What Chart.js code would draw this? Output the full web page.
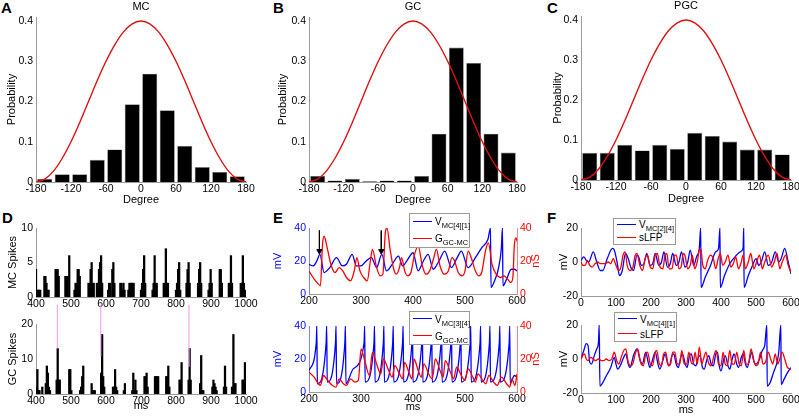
<!DOCTYPE html>
<html><head><meta charset="utf-8">
<script src="https://cdn.jsdelivr.net/npm/chart.js@4.4.1/dist/chart.umd.min.js"></script>
<style>
html,body{margin:0;padding:0;background:#fff}
body{width:799px;height:416px;position:relative;overflow:hidden;font-family:"Liberation Sans",Arial,Helvetica,sans-serif}
canvas{position:absolute}
.pl{position:absolute;font-weight:bold;font-size:15px;line-height:15px;color:#000}
.leg{position:absolute;border:1px solid #9a9a9a;background:#fff;box-sizing:border-box;font-size:10px;color:#000}
.leg .row{position:absolute;left:3px;white-space:nowrap;line-height:11px}
.leg .sw{display:inline-block;width:19px;height:0;border-top:1.5px solid;vertical-align:middle;margin-right:3px;position:relative;top:-1px}
.leg sub{font-size:7.5px;vertical-align:-3px;line-height:0}
</style></head><body>
<div class="pl" style="left:1px;top:0px">A</div>
<div class="pl" style="left:273px;top:0px">B</div>
<div class="pl" style="left:547px;top:0px">C</div>
<div class="pl" style="left:2px;top:210px">D</div>
<div class="pl" style="left:273px;top:210px">E</div>
<div class="pl" style="left:547px;top:210px">F</div>
<script>
// ---------------- DATA ----------------
const binCenters = [-165,-135,-105,-75,-45,-15,15,45,75,105,135,165];
const mcProb  = [0.008,0.019,0.019,0.055,0.081,0.193,0.269,0.178,0.090,0.037,0.025,0.014];
const gcProb  = [0.015,0.004,0.008,0.002,0.004,0.004,0.015,0.120,0.334,0.296,0.120,0.073];
const pgcProb = [0.068,0.068,0.088,0.074,0.088,0.078,0.118,0.110,0.096,0.076,0.076,0.064];
const refDeg  = [-180,-165,-150,-135,-120,-105,-90,-75,-60,-45,-30,-15,0,15,30,45,60,75,90,105,120,135,150,165,180];
const refProb = [0,0.007,0.027,0.059,0.100,0.148,0.200,0.252,0.300,0.341,0.373,0.393,0.400,0.393,0.373,0.341,0.300,0.252,0.200,0.148,0.100,0.059,0.027,0.007,0];
const degTicks = [-180,-120,-60,0,60,120,180];

const mcSpikeT = [400,403,406,409,412, 424,427,430,433,436, 456,459,462,465, 484,487,490,495, 510,513,516,519,522,525,
  550,553,556,559,562,565, 574,577,580,583,586,589, 606,609,612,618,621,624, 641,644,647,650,653, 664,667,670,673,676,679,
  700,703,706,709,712, 733,736,739,742,745, 765,768,771,774,777, 800,803,806,809,812, 830,833,836,839, 863,866,869,872,
  893,896,899,902, 925,928,931, 951,954,957,960, 985,988,991,994,997];
const mcSpikeN = [4,1,1,1,1, 3,3,2,1,1, 4,4,4,3, 3,3,3,6, 1,2,2,4,4,3,
  2,2,4,5,2,2, 2,2,4,5,6,2, 1,2,2,4,5,2, 2,2,1,2,1, 1,2,2,2,2,2,
  1,2,4,6,2, 1,2,6,2,2, 2,2,7,2,2, 1,2,4,5,1, 2,4,5,2, 2,4,5,2,
  1,2,4,2, 4,4,2, 2,2,6,2, 2,2,6,2,1];
const gcSpikeT = [401,404,407,410, 418, 428,431,434,437,440, 459,462,465,468, 495,498,501, 526,529,532,535,
  559,562,565,568, 586,589,592,595, 620,623,626,629,632, 651,654, 675,678,681,684,687, 710,713,716,719,
  740,743,746,749, 772,775,778,781, 810,813,816, 836,839,842, 869,872,875,878, 904,907,910,913,916,
  937,940,943, 960,964,967,970, 990,993,997];
const gcSpikeN = [2,7,1,1, 2, 3,8,6,2,1, 4,13,4,4, 7,7,1, 1,2,5,8,
  3,1,1,1, 6,17,5,2, 2,2,7,2,1, 1,3, 1,6,1,4,1, 5,5,6,2,
  5,5,5,5, 5,5,8,2, 4,4,9, 4,13,4, 3,11,1,1, 2,4,3,2,1,
  2,8,2, 2,17,3,3, 4,4,9];
const linkT = [461,585,837];          // ms of the pink links
const linkTopN = 25.5;                // spike-count level where links start
const linkBotN = [13,10.7,7.8];

const eTopV = [[200,18],[208,17],[215,20],[221,24],[229,13],[240,16],[253,22],[264,17],[272,18],[283,24],[291,17],[300,17],
  [310,20],[320,22],[330,16],[340,24],[349,14],[360,18],[372,23],[380,17],[390,21],[400,25],[410,14],[420,20],[429,24],
  [439,15],[450,20],[461,26],[474,16],[485,22],[493,26],[506,16],[520,22],[532,28],[544,33],[549,40],[550,4],[558,9],
  [564,15],[570,28],[572,40],[573,5],[580,9],[589,15],[595,15],[600,14]];
const eTopG = [[200,14],[210,9],[218,6],[222,5],[226,30],[229,35],[235,28],[242,18],[250,13],[258,16],[265,14],[272,10],
  [280,8],[287,14],[292,22],[298,14],[305,10],[312,8],[318,20],[322,27],[330,16],[337,11],[342,12],[347,38],[350,40],
  [356,27],[363,15],[368,12],[374,16],[378,22],[384,14],[390,11],[396,13],[403,24],[410,29],[418,17],[425,12],[432,14],
  [440,22],[445,27],[452,17],[460,12],[468,14],[475,22],[480,20],[487,13],[495,11],[500,14],[506,26],[512,22],[520,14],
  [527,11],[532,13],[540,27],[545,31],[552,18],[560,12],[568,10],[575,11],[582,9],[588,7],[592,10],[595,30],[598,34],[600,32]];
const eArrowT = [220,339];
const eArrowFrom = 38.5, eArrowTo = 26;

const eBotV = [[200,13],[214,30],[215,40],[216,5],[233,30],[234,40],[235,6],[251,30],[252,40],[253,5],[269,30],[270,40],
  [271,5],[285,14],[306,30],[307,40],[308,6],[325,30],[326,40],[327,6],[343,30],[344,40],[345,6],[361,30],[362,40],[363,6],
  [380,30],[381,40],[382,6],[398,30],[399,40],[400,6],[417,30],[418,40],[419,6],[435,30],[436,40],[437,6],[454,30],[455,40],
  [456,6],[473,30],[474,40],[475,6],[491,30],[492,40],[493,6],[510,30],[511,40],[512,6],[529,30],[530,40],[531,6],[547,30],
  [548,40],[549,6],[566,30],[567,40],[568,6],[585,30],[586,40],[587,5],[595,10],[600,9]];
const eBotG = [[200,12],[210,9],[218,5],[222,4],[228,10],[236,7],[245,4],[252,3],[258,8],[266,5],[272,4],[280,8],[288,6],
  [295,7],[300,26],[308,18],[316,10],[322,24],[330,17],[338,11],[343,20],[352,14],[360,9],[365,16],[374,11],[380,8],[384,18],
  [392,12],[398,8],[402,20],[410,13],[416,9],[421,17],[430,11],[437,8],[443,20],[452,13],[458,9],[462,19],[472,12],[478,8],
  [484,15],[493,10],[500,7],[506,14],[515,9],[520,6],[525,11],[534,7],[540,5],[546,10],[555,6],[562,4],[570,9],[580,5],
  [586,3],[590,8],[596,4],[600,11]];

const fTopV = [[0,1],[8,3],[15,1],[22,0],[35,6],[45,0],[55,-5],[62,-5],[75,2],[90,8],[95,7],[103,0],[110,-8],[118,-5],[127,5],
  [135,2],[142,-3],[150,-5],[160,4],[165,3],[172,-2],[180,-1],[188,5],[197,-2],[205,-1],[212,5],[222,-2],[230,0],[237,6],
  [247,-3],[255,-1],[262,5],[272,-2],[280,0],[287,6],[297,-3],[305,0],[312,7],[322,-2],[330,3],[338,8],[342,20],[343,-15],
  [355,-9],[370,-2],[385,6],[393,8],[397,20],[398,-15],[410,-8],[425,-1],[440,3],[455,6],[463,8],[465,20],[466,-15],
  [478,-8],[490,-2],[500,2],[508,-2],[515,0],[525,6],[535,-2],[545,0],[555,6],[565,0],[572,2],[582,8],[592,0],[600,-7]];
const fTopL = [[0,0],[5,-2],[12,-2],[18,1],[25,-2],[32,-3],[40,-1],[48,0],[55,-1],[62,-1],[70,-1],[78,0],[85,-1],[92,2],
  [100,-2],[108,-5],[114,-3],[120,4],[126,6],[132,-2],[140,-5],[147,-4],[155,4],[160,5],[168,-2],[176,-5],[183,2],[190,4],
  [198,-3],[205,-4],[212,4],[218,5],[226,-3],[234,-4],[240,4],[245,5],[252,-4],[260,-4],[267,4],[272,4],[280,-4],[286,-3],
  [292,5],[297,4],[305,-4],[312,-2],[318,4],[325,-4],[332,0],[338,7],[342,8],[348,-2],[355,-4],[362,1],[370,4],[378,2],
  [385,-4],[392,2],[398,5],[405,-2],[412,0],[420,4],[428,-3],[435,-1],[442,3],[450,-4],[458,0],[463,4],[470,-4],[478,0],
  [485,5],[494,-4],[502,0],[510,4],[518,-4],[525,0],[535,4],[545,-3],[552,0],[560,5],[568,-4],[575,0],[585,4],[592,-2],[600,-6]];
const fBotV = [[0,0],[8,5],[15,9],[20,8],[25,-2],[30,-3],[38,2],[45,6],[50,10],[52,20],[54,-16],[62,-14],[72,-10],[85,-5],
  [95,1],[100,-3],[105,-6],[112,-4],[120,0],[128,3],[135,-3],[140,-5],[150,2],[160,6],[168,0],[175,-3],[185,4],[192,-2],
  [197,-5],[205,0],[212,4],[220,-3],[225,-6],[235,0],[240,3],[248,-3],[252,-4],[260,2],[265,3],[272,-3],[278,-5],[285,1],
  [290,3],[298,-3],[303,-5],[310,2],[315,3],[322,-3],[328,-4],[335,1],[340,2],[347,-5],[352,-6],[360,0],[365,2],[372,-3],
  [378,-4],[385,3],[390,4],[395,-4],[400,-7],[408,0],[412,2],[420,-4],[425,-6],[432,0],[437,3],[445,-3],[450,-5],[458,1],
  [463,3],[470,-3],[475,-5],[483,1],[488,4],[495,-2],[500,-3],[510,0],[518,5],[525,8],[531,20],[532,-16],[540,-14],
  [550,-8],[560,-2],[565,4],[571,20],[572,-15],[580,-12],[590,-8],[600,-5]];
const fBotL = [[0,0],[5,2],[10,3],[15,0],[20,-1],[28,1],[35,0],[42,-1],[50,0],[58,-1],[65,-1],[72,0],[80,-1],[88,0],[95,4],
  [102,-1],[108,-3],[115,1],[122,5],[128,6],[135,-2],[142,-4],[148,-3],[155,3],[162,6],[170,-2],[178,-4],[185,3],[190,4],
  [198,-3],[204,-4],[212,4],[216,5],[224,-3],[230,-4],[236,3],[242,4],[250,-4],[256,-3],[262,4],[268,4],[275,-3],[282,-3],
  [288,5],[295,-3],[302,-3],[308,4],[315,-2],[320,-3],[326,4],[332,-3],[338,7],[345,-3],[350,0],[357,4],[364,-2],[372,-4],
  [380,2],[386,5],[393,-3],[400,-4],[406,4],[412,-3],[418,-4],[425,5],[432,-3],[438,-3],[445,4],[452,-3],[458,-4],[465,5],
  [472,-3],[478,-3],[486,6],[492,0],[500,-4],[506,-3],[513,4],[520,-3],[527,-2],[535,4],[542,0],[548,-3],[555,3],[562,-3],
  [568,0],[575,4],[582,0],[590,-5],[600,-6]];

const legends = [
  {left:409, top:213, w:61, h:35, items:[{c:'#0000ff', m:'V', s:'MC[4][1]'},{c:'#ff0000', m:'G', s:'GC-MC'}]},
  {left:409, top:311, w:61, h:34, items:[{c:'#0000ff', m:'V', s:'MC[3][4]'},{c:'#ff0000', m:'G', s:'GC-MC'}]},
  {left:613, top:218, w:63, h:27, items:[{c:'#0000ff', m:'V', s:'MC[2][4]'},{c:'#ff0000', m:'sLFP', s:''}]},
  {left:614, top:312, w:63, h:30, items:[{c:'#0000ff', m:'V', s:'MC[4][1]'},{c:'#ff0000', m:'sLFP', s:''}]}
];

// ---------------- HELPERS ----------------
const FONT = '"Liberation Sans", Arial, Helvetica, sans-serif';
Chart.defaults.font.family = FONT;
Chart.defaults.color = '#000';
Chart.defaults.animation = false;
Chart.defaults.events = [];
Chart.defaults.plugins.legend.display = false;
Chart.defaults.plugins.tooltip.enabled = false;
const TICK = 10.5, LAB = 11;
const BLUE = '#0000ff', RED = '#ff0000', AX = '#9a9a9a';
const pts = arr => arr.map(p => ({x:p[0], y:p[1]}));
const zip = (xs, ys) => xs.map((x,i) => ({x, y:ys[i]}));

// draws the right-hand axis title reading bottom-to-top (as on the left axis)
const rightTitle = {
  id:'rightTitle',
  afterDraw(chart, args, opts){
    if (!opts || !opts.text || !chart.scales.y1) return;
    const s = chart.scales.y1, ctx = chart.ctx;
    ctx.save();
    ctx.translate(opts.x, (s.top + s.bottom)/2);
    ctx.rotate(-Math.PI/2);
    ctx.font = `${LAB}px ${FONT}`;
    ctx.fillStyle = opts.color; ctx.textAlign = 'center'; ctx.textBaseline = 'middle';
    ctx.fillText(opts.text, 0, 0);
    ctx.restore();
  }
};

function canvasAt(b){
  const c = document.createElement('canvas');
  c.width = b.x1-b.x0; c.height = b.y1-b.y0;
  c.style.left = b.x0+'px'; c.style.top = b.y0+'px';
  c.style.width = c.width+'px'; c.style.height = c.height+'px';
  document.body.appendChild(c); return c;
}
function xScale(o, box, area){
  return {
    type:'linear', position:'bottom', min:o.min, max:o.max, offset:false,
    afterBuildTicks: o.ticks ? (s => { s.ticks = o.ticks.map(v => ({value:v})); }) : undefined,
    ticks:{stepSize:o.step, font:{size:TICK}, padding:1, maxRotation:0, autoSkip:false, includeBounds:false, color:'#000',
      callback: v => String(v)},
    grid:{display:false, drawTicks:false},
    border:{display:true, color:AX, width:1},
    title:{display:!!o.title, text:o.title||'', font:{size:LAB, lineHeight:1}, padding:{top:0, bottom: o.title ? (box.y1 - o.titleY - LAB/2) : 0}},
    afterFit(s){ s.height = box.y1 - area.b; s.paddingLeft = 0; s.paddingRight = 0; }
  };
}
function yScale(o, box, area, right){
  return {
    type:'linear', position: right ? 'right' : 'left', min:o.min, max:o.max,
    ticks:{stepSize:o.step, font:{size:TICK}, padding:3, color:o.color||'#000', includeBounds:false},
    grid:{display:false, drawTicks:false},
    border:{display:true, color:o.axisColor||AX, width:1},
    title:{display:!!o.title && !right, text:o.title||'', color:o.color||'#000', font:{size:LAB, lineHeight:1},
      padding:{top: o.titleX - box.x0 - LAB/2, bottom:0}},
    afterFit(s){ s.width = right ? box.x1 - area.r : area.l - box.x0; s.paddingTop = 0; s.paddingBottom = 0; s.paddingLeft = 0; s.paddingRight = 0; }
  };
}
function makeChart(box, area, o){
  const scales = { x: xScale(o.x, box, area), y: yScale(o.y, box, area, false) };
  if (o.y1) scales.y1 = yScale(o.y1, box, area, true);
  const plugins = {legend:{display:false}, tooltip:{enabled:false},
    rightTitle: o.y1 ? {text:o.y1.title, x:o.y1.titleX - box.x0, color:o.y1.color} : {}};
  if (o.title) plugins.title = {display:true, text:o.title, fullSize:false, color:'#000',
    font:{size:LAB, weight:'normal', lineHeight:1},
    padding:{top:o.titleY - box.y0 - LAB/2, bottom: area.t - o.titleY - LAB/2}};
  return new Chart(canvasAt(box), {
    type:'bar',
    data:{datasets:o.datasets},
    options:{responsive:false, animation:false, maintainAspectRatio:false,
      layout:{padding:{left:0, right: o.y1 ? 0 : box.x1 - area.r, top: o.title ? 0 : area.t - box.y0, bottom:0}},
      scales, plugins},
    plugins:[rightTitle]
  });
}
function histPanel(box, area, title, titleY, ytx, xty, probs){
  makeChart(box, area, {
    title, titleY,
    x:{min:-180, max:180, step:60, ticks:degTicks, title:'Degree', titleY:xty},
    y:{min:0, max:0.41, step:0.1, title:'Probability', titleX:ytx},
    datasets:[
      {type:'line', data:zip(refDeg, refProb), borderColor:'#e01010', borderWidth:1.4, pointRadius:0, cubicInterpolationMode:'monotone', order:0},
      {type:'bar', data:zip(binCenters, probs), backgroundColor:'#000', borderColor:'#7a7a7a', borderWidth:0.6,
        barPercentage:1, categoryPercentage:0.86, order:1}
    ]});
}
function trace(data, color, axis, order){
  return {type:'line', data:pts(data), borderColor:color, borderWidth:1.3, pointRadius:0,
    cubicInterpolationMode:'monotone', yAxisID:axis, order};
}

// ---------------- PANELS A-C ----------------
histPanel({x0:0,y0:0,x1:265,y1:212},   {l:36,t:17,r:246,b:182}, 'MC', 7, 12, 200, mcProb);
histPanel({x0:265,y0:0,x1:530,y1:212}, {l:309,t:17,r:517,b:182}, 'GC', 7, 283, 200, gcProb);
histPanel({x0:530,y0:0,x1:799,y1:212}, {l:581,t:16,r:791,b:180}, 'PGC', 6, 558, 199, pgcProb);

// ---------------- PANEL D ----------------
makeChart({x0:0,y0:212,x1:265,y1:312}, {l:36,t:228,r:246,b:297}, {
  x:{min:400, max:1000, step:100},
  y:{min:0, max:10, step:5, title:'MC Spikes', titleX:13},
  datasets:[{type:'bar', data:zip(mcSpikeT, mcSpikeN), backgroundColor:'#000', barThickness:1.6, order:1}]
});
makeChart({x0:0,y0:296,x1:265,y1:416}, {l:36,t:324,r:246,b:394}, {
  x:{min:400, max:1000, step:100, title:'ms', titleY:406},
  y:{min:0, max:20, step:10, title:'GC Spikes', titleX:13},
  datasets:[
    ...linkT.map((t,i) => ({type:'line', data:[{x:t,y:linkTopN},{x:t,y:linkBotN[i]}], borderColor:'#f4a6f0', borderWidth:1.2, pointRadius:0, clip:false, order:0})),
    {type:'bar', data:zip(gcSpikeT, gcSpikeN), backgroundColor:'#000', barThickness:1.6, order:1}
  ]
});

// ---------------- PANEL E ----------------
const eY  = {min:0, max:40, step:20, title:'mV', titleX:278, color:BLUE, axisColor:'#8080ff'};
const eY1 = {min:0, max:40, step:20, title:'nS', titleX:536, color:RED, axisColor:'#ff8080'};
makeChart({x0:265,y0:212,x1:545,y1:312}, {l:309,t:228,r:517,b:294}, {
  x:{min:200, max:600, step:100}, y:eY, y1:eY1,
  datasets:[
    ...eArrowT.map(t => ({type:'line', data:[{x:t,y:eArrowFrom},{x:t,y:eArrowTo}], borderColor:'#000', borderWidth:1,
      pointRadius:[0,3], pointStyle:'triangle', pointRotation:180, pointBackgroundColor:'#000', pointBorderColor:'#000', order:0})),
    trace(eTopG, RED, 'y1', 1), trace(eTopV, BLUE, 'y', 2)
  ]
});
makeChart({x0:265,y0:312,x1:545,y1:416}, {l:309,t:326,r:517,b:392}, {
  x:{min:200, max:600, step:100, title:'ms', titleY:407}, y:eY, y1:eY1,
  datasets:[ trace(eBotG, RED, 'y1', 1), trace(eBotV, BLUE, 'y', 2) ]
});

// ---------------- PANEL F ----------------
const fY = {min:-20, max:20, step:20, title:'mV', titleX:564};
makeChart({x0:530,y0:212,x1:799,y1:312}, {l:581,t:228,r:791,b:296}, {
  x:{min:0, max:600, step:100}, y:fY,
  datasets:[ trace(fTopL, RED, 'y', 1), trace(fTopV, BLUE, 'y', 2) ]
});
makeChart({x0:530,y0:312,x1:799,y1:416}, {l:581,t:325,r:791,b:393}, {
  x:{min:0, max:600, step:100, title:'ms', titleY:410}, y:fY,
  datasets:[ trace(fBotL, RED, 'y', 1), trace(fBotV, BLUE, 'y', 2) ]
});

// ---------------- LEGENDS (HTML, subscripts) ----------------
legends.forEach(L => {
  const d = document.createElement('div');
  d.className = 'leg';
  d.style.cssText = `left:${L.left}px;top:${L.top}px;width:${L.w}px;height:${L.h}px`;
  L.items.forEach((it, i) => {
    const r = document.createElement('div');
    r.className = 'row';
    r.style.top = (L.h/4 + i*L.h/2 - 7) + 'px';
    r.innerHTML = `<span class="sw" style="border-color:${it.c}"></span>${it.m}${it.s ? '<sub>'+it.s+'</sub>' : ''}`;
    d.appendChild(r);
  });
  document.body.appendChild(d);
});
</script>
</body></html>
